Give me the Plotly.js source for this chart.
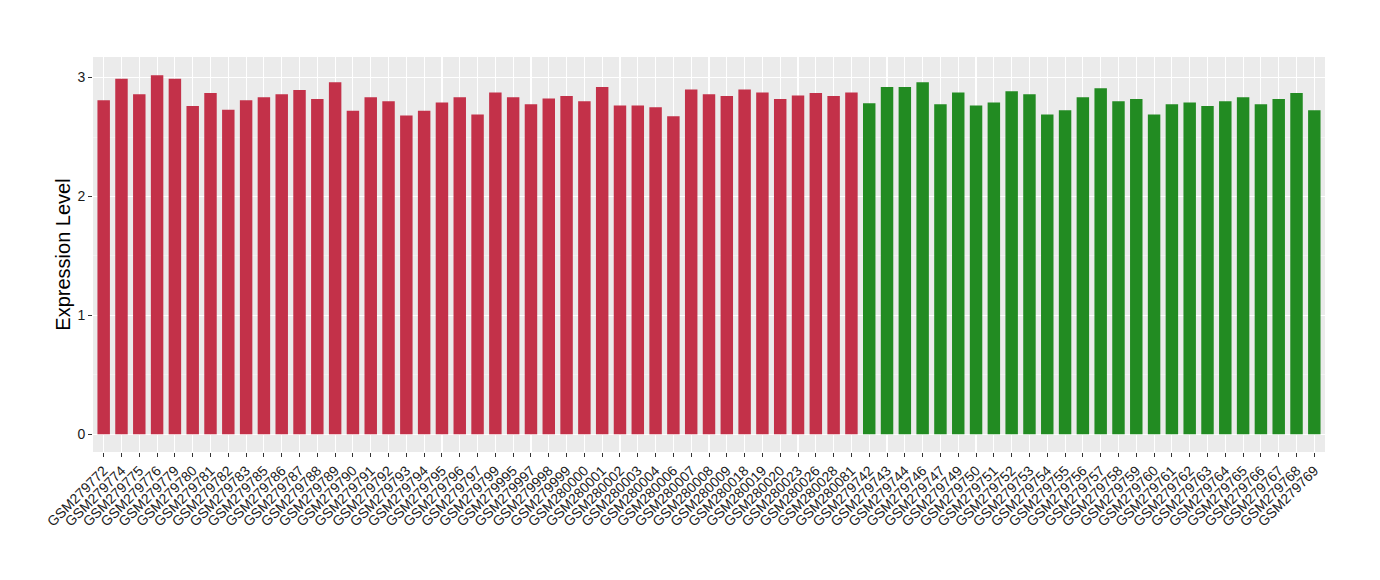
<!DOCTYPE html>
<html>
<head>
<meta charset="utf-8">
<script src="https://cdn.plot.ly/plotly-3.0.1.min.js"></script>
<style>html,body{margin:0;padding:0;background:#fff;}#chart{width:1380px;height:580px;}</style>
</head>
<body>
<div id="chart"></div>
<script>
const groupASamples = ["GSM279772","GSM279774","GSM279775","GSM279776","GSM279779","GSM279780","GSM279781","GSM279782","GSM279783","GSM279785","GSM279786","GSM279787","GSM279788","GSM279789","GSM279790","GSM279791","GSM279792","GSM279793","GSM279794","GSM279795","GSM279796","GSM279797","GSM279799","GSM279995","GSM279997","GSM279998","GSM279999","GSM280000","GSM280001","GSM280002","GSM280003","GSM280004","GSM280006","GSM280007","GSM280008","GSM280009","GSM280018","GSM280019","GSM280020","GSM280023","GSM280026","GSM280028","GSM280081"];
const groupAValues = [2.81,2.99,2.86,3.02,2.99,2.76,2.87,2.73,2.81,2.835,2.86,2.895,2.82,2.96,2.72,2.835,2.80,2.68,2.72,2.79,2.835,2.69,2.875,2.835,2.775,2.825,2.845,2.80,2.92,2.765,2.765,2.75,2.675,2.90,2.86,2.845,2.90,2.875,2.82,2.85,2.87,2.845,2.875];
const groupBSamples = ["GSM279742","GSM279743","GSM279744","GSM279746","GSM279747","GSM279749","GSM279750","GSM279751","GSM279752","GSM279753","GSM279754","GSM279755","GSM279756","GSM279757","GSM279758","GSM279759","GSM279760","GSM279761","GSM279762","GSM279763","GSM279764","GSM279765","GSM279766","GSM279767","GSM279768","GSM279769"];
const groupBValues = [2.785,2.92,2.92,2.96,2.775,2.875,2.765,2.79,2.885,2.86,2.69,2.725,2.835,2.91,2.80,2.82,2.69,2.775,2.79,2.76,2.80,2.835,2.775,2.82,2.87,2.725];
const yTicks = [0,1,2,3];

const allSamples = groupASamples.concat(groupBSamples);
const fontFam = "Liberation Sans, Arial, sans-serif";

const traces = [
  {type:"bar", x:groupASamples, y:groupAValues, marker:{color:"#C33149"}, width:0.7, showlegend:false, hoverinfo:"x+y"},
  {type:"bar", x:groupBSamples, y:groupBValues, marker:{color:"#228B22"}, width:0.7, showlegend:false, hoverinfo:"x+y"}
];

const layout = {
  width:1380, height:580,
  margin:{l:93, r:55, t:57, b:128},
  paper_bgcolor:"#FFFFFF",
  plot_bgcolor:"#EBEBEB",
  bargap:0.3,
  font:{family:fontFam, color:"#000"},
  xaxis:{
    type:"category",
    categoryorder:"array", categoryarray:allSamples,
    range:[-0.6, allSamples.length - 0.4],
    tickangle:-45,
    tickfont:{size:14, color:"#1a1a1a", family:fontFam},
    showgrid:true, gridcolor:"#FFFFFF", gridwidth:1.1,
    ticks:"outside", ticklen:4, tickcolor:"#333", tickwidth:1,
    zeroline:false, showline:false, fixedrange:true
  },
  yaxis:{
    range:[-0.149, 3.173],
    tickvals:yTicks, ticktext:yTicks.map(String),
    tickfont:{size:14, color:"#1a1a1a", family:fontFam},
    title:{text:"Expression Level", font:{size:20, color:"#000", family:fontFam}, standoff:1},
    showgrid:true, gridcolor:"#FFFFFF", gridwidth:1.1,
    minor:{tickvals:[0.5,1.5,2.5], showgrid:true, gridcolor:"#F7F7F7", gridwidth:0.6, ticks:""},
    ticks:"outside", ticklen:4, tickcolor:"#333", tickwidth:1,
    zeroline:false, showline:false, fixedrange:true
  }
};

Plotly.newPlot("chart", traces, layout, {displayModeBar:false, staticPlot:true});
</script>
</body>
</html>
